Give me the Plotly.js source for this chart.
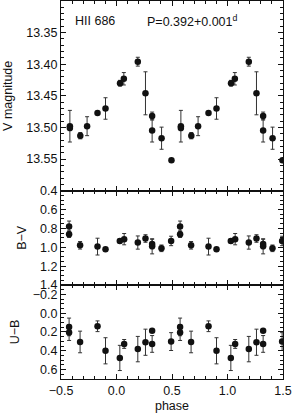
<!DOCTYPE html>
<html><head><meta charset="utf-8">
<script src="https://cdn.plot.ly/plotly-3.0.1.min.js"></script>
<style>html,body{margin:0;padding:0;background:#fff}#g{width:293px;height:419px}</style>
</head><body><div id="g"></div>
<script>
// One cycle of phase-folded observations (plotted at phase and phase+1)
const vPhase = [-0.42, -0.42, -0.326, -0.265, -0.171, -0.099, 0.032, 0.066, 0.192, 0.261, 0.321, 0.321, 0.406, 0.495];
const vMag   = [13.498, 13.501, 13.513, 13.498, 13.477, 13.470, 13.430, 13.423, 13.396, 13.446, 13.482, 13.505, 13.517, 13.552];
const vErr   = [0.025, 0.004, 0.005, 0.015, 0.0, 0.017, 0.0045, 0.0098, 0.007, 0.034, 0.0063, 0.018, 0.0175, 0.0];

const bvPhase = [-0.427, -0.427, -0.328, -0.171, -0.099, 0.030, 0.069, 0.192, 0.261, 0.321, 0.321, 0.405, 0.492];
const bvVal   = [0.779, 0.861, 0.979, 0.993, 1.021, 0.933, 0.914, 0.950, 0.907, 0.965, 0.990, 1.011, 0.933];
const bvErr   = [0.057, 0.035, 0.040, 0.089, 0.0, 0.020, 0.060, 0.070, 0.040, 0.050, 0.080, 0.035, 0.050];

const ubPhase = [-0.427, -0.427, -0.328, -0.171, -0.099, 0.030, 0.069, 0.192, 0.261, 0.321, 0.321, 0.492];
const ubVal   = [0.146, 0.205, 0.306, 0.139, 0.400, 0.476, 0.327, 0.382, 0.309, 0.188, 0.327, 0.302];
const ubErr   = [0.094, 0.085, 0.115, 0.057, 0.139, 0.134, 0.047, 0.135, 0.139, 0.0, 0.089, 0.095];

const xTickVals = [-0.5, 0.0, 0.5, 1.0, 1.5];
const vTickVals = [13.35, 13.40, 13.45, 13.50, 13.55];
const bvTickVals = [0.4, 0.6, 0.8, 1.0, 1.2, 1.4];
const ubTickVals = [-0.2, 0.0, 0.2, 0.4, 0.6];

const label1 = 'HII 686';
const label2 = 'P=0.392+0.001<sup>d</sup>';

function twoCycles(p){ return p.concat(p.map(v => v + 1)); }
function dup(a){ return a.concat(a); }

const ink = '#111';
const fontFam = '"Liberation Sans", Arial, Helvetica, sans-serif';

function tr(ph, val, err, xa, ya){
  return {
    x: twoCycles(ph), y: dup(val), xaxis: xa, yaxis: ya,
    type: 'scatter', mode: 'markers', cliponaxis: true,
    marker: {color: ink, size: 6.5},
    error_y: {type: 'data', array: dup(err), visible: true, color: '#333', thickness: 1, width: 2},
    hoverinfo: 'skip', showlegend: false
  };
}

const data = [
  tr(vPhase, vMag, vErr, 'x', 'y'),
  tr(bvPhase, bvVal, bvErr, 'x2', 'y2'),
  tr(ubPhase, ubVal, ubErr, 'x3', 'y3')
];

const tf = {family: fontFam, size: 12.5, color: ink};

function xAx(anchor, labels){
  return {
    anchor: anchor, range: [-0.5, 1.5], matches: anchor === 'y3' ? undefined : 'x3',
    tickvals: xTickVals, ticktext: xTickVals.map(v => v.toFixed(1).replace('-', '\u2212')),
    showticklabels: labels, ticks: 'inside', ticklen: 5, tickcolor: ink,
    minor: {dtick: 0.1, tick0: 0, ticks: 'inside', ticklen: 3, tickcolor: ink},
    showline: true, linecolor: ink, linewidth: 1, mirror: 'ticks',
    showgrid: false, zeroline: false, tickfont: tf
  };
}
function yAx(domain, range, tv, dec, minorD, title){
  return {
    domain: domain, range: range, tickvals: tv,
    ticktext: tv.map(v => v.toFixed(dec).replace('-', '\u2212')),
    ticks: 'inside', ticklen: 5, tickcolor: ink,
    minor: {dtick: minorD, tick0: tv[0], ticks: 'inside', ticklen: 3, tickcolor: ink},
    showline: true, linecolor: ink, linewidth: 1, mirror: 'ticks',
    showgrid: false, zeroline: false, tickfont: tf,
    title: {text: title, font: {family: fontFam, size: 12.5, color: ink}, standoff: 10}
  };
}

const layout = {
  width: 293, height: 419,
  margin: {l: 61, r: 10, t: 1, b: 40, pad: 0},
  paper_bgcolor: '#fff', plot_bgcolor: '#fff',
  showlegend: false,
  xaxis: xAx('y', false),
  xaxis2: xAx('y2', false),
  xaxis3: Object.assign(xAx('y3', true), {title: {text: 'phase', font: {family: fontFam, size: 12.5, color: ink}, standoff: 4}}),
  yaxis: yAx([0.4982, 1], [13.60, 13.30], vTickVals, 2, 0.01, 'V magnitude'),
  yaxis2: yAx([0.2487, 0.4982], [1.4, 0.4], bvTickVals, 1, 0.05, 'B\u2212V'),
  yaxis3: yAx([0, 0.2487], [0.7, -0.3], ubTickVals, 1, 0.05, 'U\u2212B'),
  annotations: [
    {xref: 'x', yref: 'y', x: -0.395, y: 13.331, text: label1, showarrow: false, xanchor: 'left', yanchor: 'middle',
     font: {family: fontFam, size: 12.5, color: ink}},
    {xref: 'x', yref: 'y', x: 0.255, y: 13.331, text: label2, showarrow: false, xanchor: 'left', yanchor: 'middle',
     font: {family: fontFam, size: 12.5, color: ink}}
  ]
};

Plotly.newPlot('g', data, layout, {staticPlot: true, displayModeBar: false});
</script></body></html>
